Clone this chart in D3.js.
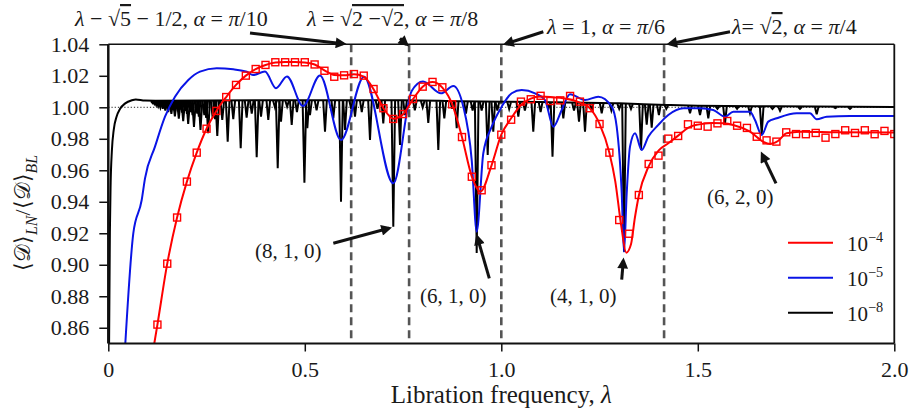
<!DOCTYPE html>
<html>
<head>
<meta charset="utf-8">
<script src="https://cdn.jsdelivr.net/npm/d3@7"></script>
<style>
  body { margin: 0; background: #fff; }
  svg text { font-family: "Liberation Serif", "Times New Roman", serif; fill: #1a1a1a; }
</style>
</head>
<body>
<svg id="chart" width="913" height="417"></svg>
<script>
// ---- data ----
var xTicks = [0, 0.5, 1.0, 1.5, 2.0];
var xTickLabels = ["0", "0.5", "1.0", "1.5", "2.0"];
var yTicks = [0.86, 0.88, 0.90, 0.92, 0.94, 0.96, 0.98, 1.00, 1.02, 1.04];

// resonance lines: (sqrt5-1)/2, sqrt(2-sqrt2), 1, sqrt2
var resonances = [0.618, 0.7654, 1.0, 1.4142];

// red, epsilon = 1e-4 : continuous curve
var redLine = [[0.117,0.85],[0.125,0.862],[0.15,0.9007],[0.175,0.930],[0.2,0.9528],[0.225,0.9712],[0.25,0.9864],
  [0.275,0.9977],[0.3,1.0065],[0.325,1.0142],[0.35,1.0201],[0.375,1.0243],[0.4,1.0269],[0.425,1.0284],[0.45,1.0288],
  [0.475,1.0288],[0.5,1.0284],[0.525,1.0272],[0.55,1.0235],[0.575,1.0205],[0.6,1.0203],[0.625,1.021],[0.65,1.0195],
  [0.675,1.0115],[0.7,0.9995],[0.725,0.9928],[0.75,0.9955],[0.775,1.005],[0.8,1.013],[0.825,1.016],[0.85,1.0125],
  [0.875,1.002],[0.9,0.981],[0.925,0.956],[0.947,0.9465],[0.975,0.963],[1.0,0.9826],[1.025,0.993],[1.05,1.0015],
  [1.075,1.0055],[1.1,1.0068],[1.125,1.0066],[1.15,1.006],[1.175,1.005],[1.2,1.003],[1.225,0.9995],[1.25,0.9895],
  [1.275,0.9712],[1.29,0.953],[1.305,0.925],[1.318,0.9077],[1.33,0.913],[1.34,0.93],[1.35,0.944],[1.375,0.9625],
  [1.4,0.9725],[1.424,0.977],[1.45,0.982],[1.475,0.987],[1.5,0.989],[1.536,0.990],[1.565,0.9898],[1.59,0.9888],
  [1.633,0.9845],[1.666,0.9782],[1.684,0.9767],[1.704,0.9786],[1.726,0.9835],[1.76,0.9845],[1.85,0.9842],[2.0,0.984]];

// red, epsilon = 1e-4 : open square markers
var redMarkers = [[0.125,0.862],[0.15,0.9007],[0.175,0.930],[0.2,0.9528],[0.225,0.9712],[0.25,0.9864],[0.275,0.9977],
  [0.3,1.0065],[0.325,1.0142],[0.35,1.0201],[0.375,1.0243],[0.4,1.0269],[0.425,1.0286],[0.45,1.0286],[0.475,1.0286],
  [0.5,1.0286],[0.525,1.0272],[0.55,1.0232],[0.575,1.0194],[0.6,1.0203],[0.625,1.0211],[0.65,1.0201],[0.675,1.0116],
  [0.7,0.9994],[0.725,0.9926],[0.75,0.9957],[0.775,1.0053],[0.8,1.0131],[0.825,1.0161],[0.85,1.0127],[0.875,1.0019],
  [0.9,0.9811],[0.925,0.9559],[0.95,0.9473],[0.975,0.9632],[1.0,0.9826],[1.025,0.9921],[1.05,1.0036],[1.075,1.0051],
  [1.1,1.0073],[1.125,1.004],[1.15,1.0044],[1.175,1.0072],[1.2,1.0036],[1.225,0.9994],[1.25,0.9894],[1.275,0.9712],
  [1.3,0.9284],[1.325,0.9197],[1.35,0.9443],[1.375,0.964],[1.4,0.9693],[1.425,0.9801],[1.45,0.9818],[1.475,0.9892],
  [1.5,0.9883],[1.525,0.9877],[1.55,0.9898],[1.575,0.9913],[1.6,0.9883],[1.625,0.9869],[1.65,0.9813],[1.675,0.979],
  [1.7,0.9782],[1.725,0.9841],[1.75,0.983],[1.775,0.9829],[1.8,0.9837],[1.825,0.9807],[1.85,0.983],[1.875,0.9854],
  [1.9,0.9837],[1.925,0.9854],[1.95,0.9829],[1.975,0.985],[2.0,0.983]];

// blue, epsilon = 1e-5
var blueLine = [[0.0433,0.85],[0.0636,0.92],[0.085,0.9411],[0.0934,0.9549],[0.1188,0.975],[0.1443,0.994],
  [0.1697,1.0067],[0.2036,1.0173],[0.2333,1.0226],[0.2758,1.0248],[0.3181,1.0241],[0.3522,1.0226],[0.3682,1.0205],
  [0.3987,1.0227],[0.4267,1.0121],[0.4547,1.0196],[0.4954,1.0008],[0.5387,1.0202],[0.5921,0.9792],[0.6506,1.0194],
  [0.7252,0.9517],[0.772,1.0103],[0.8008,1.0163],[0.8466,1.0089],[0.8779,1.0135],[0.9033,1.0004],[0.9247,0.9665],
  [0.9374,0.921],[0.9542,0.9708],[0.9756,0.9877],[1.001,1.0004],[1.0265,1.0089],[1.0519,1.011],[1.0858,1.0089],
  [1.1112,1.0046],[1.1323,0.9877],[1.1537,0.9983],[1.1748,1.0083],[1.213,1.0046],[1.2468,1.0067],[1.2809,1.0004],
  [1.2936,0.9877],[1.3064,0.9454],[1.3122,0.9083],[1.3191,0.9454],[1.3275,0.975],[1.3402,0.9835],[1.3573,0.9729],
  [1.374,0.9813],[1.3995,0.9888],[1.4249,0.9951],[1.4631,0.9994],[1.5056,0.9994],[1.5394,0.9983],[1.5692,0.994],
  [1.5903,0.9972],[1.6328,0.9972],[1.6455,0.9919],[1.6626,0.9824],[1.6794,0.9909],[1.7008,0.993],[1.7517,0.9962],
  [1.7855,0.9962],[1.8025,0.9924],[1.828,0.994],[1.8873,0.9945],[2.0,0.9945]];

// black, epsilon = 1e-8 : slowly varying level ...
var blackBase = [[0.002,0.85],[0.004,0.92],[0.006,0.952],[0.009,0.972],[0.014,0.986],[0.021,0.994],[0.03,0.999],
  [0.043,1.0025],[0.06,1.0045],[0.07,1.005],[0.093,1.0043],[0.12,1.0042],[0.4,1.0045],[0.75,1.0045],[0.9,1.0038],
  [1.1,1.0033],[1.3,1.0025],[1.42,1.0015],[1.5,1.001],[1.7,1.0006],[2.0,1.0002]];
// ... plus narrow resonance spikes [lambda, lowest value]
var blackSpikes = [[0.113,1.0026],[0.115,1.0034],[0.1173,1.002],[0.1196,1.003],[0.1208,1.0028],[0.122,1.0013],
  [0.1245,1.0027],[0.1258,1.0022],[0.127,1.0006],[0.1298,1.0024],[0.1312,1.0016],[0.1326,0.9998],[0.1356,1.002],
  [0.1371,1.001],[0.1386,0.999],[0.1419,1.0016],[0.1435,1.0004],[0.1452,0.998],[0.1488,1.0011],[0.1506,0.9998],
  [0.1525,0.997],[0.1565,1.0006],[0.1585,0.999],[0.1605,0.9958],[0.165,1.0],[0.1672,0.9982],[0.1694,0.9943],
  [0.1744,0.9993],[0.1769,0.9975],[0.1794,0.9928],[0.185,0.9985],[0.1878,0.9966],[0.1906,0.9912],[0.197,0.9978],
  [0.2001,0.9958],[0.2033,0.9895],[0.2106,0.997],[0.2143,0.995],[0.218,0.9875],[0.2263,0.996],[0.2304,0.994],
  [0.2346,0.9856],[0.2443,0.995],[0.2491,0.9932],[0.254,0.9835],[0.2655,0.9935],[0.2714,0.9925],[0.2773,0.9818],
  [0.29,0.992],[0.3038,0.9782],[0.318,0.9925],[0.3369,0.974],[0.352,0.9935],[0.365,0.996],[0.3776,0.9683],
  [0.3886,0.994],[0.4071,0.992],[0.424,1.0],[0.4311,0.9613],[0.4394,0.9909],[0.455,1.0005],[0.4667,0.9888],
  [0.48,0.997],[0.499,0.9521],[0.5064,0.9867],[0.5132,0.9951],[0.53,0.998],[0.5514,0.9845],[0.5725,0.993],
  [0.5921,0.94],[0.6023,0.9856],[0.618,0.999],[0.6277,0.994],[0.645,0.997],[0.6659,0.9792],[0.685,0.999],
  [0.6997,0.9898],[0.7252,0.9242],[0.7422,0.976],[0.755,0.995],[0.78,0.998],[0.8,1.0],[0.8142,0.99],[0.8397,0.9729],
  [0.855,0.993],[0.875,0.999],[0.8865,0.9867],[0.91,0.996],[0.927,0.998],[0.9374,0.9075],[0.95,0.998],
  [0.9654,0.9697],[0.9796,0.9845],[0.99,0.998],[1.02,0.999],[1.0433,0.994],[1.06,0.998],[1.0814,0.9845],[1.1,0.997],
  [1.12,0.999],[1.1303,0.9686],[1.1578,0.993],[1.185,0.998],[1.1977,0.9909],[1.213,0.9845],[1.23,0.998],
  [1.2555,0.9962],[1.28,0.998],[1.3,0.999],[1.3122,0.9083],[1.33,0.999],[1.3555,0.9729],[1.37,0.989],[1.3827,0.987],
  [1.401,0.995],[1.42,0.999],[1.4802,0.9962],[1.5056,0.9951],[1.5267,0.993],[1.55,0.999],[1.5692,0.9898],[1.6,0.999],
  [1.6328,0.9962],[1.6626,0.983],[1.69,0.999],[1.7092,0.9978],[1.76,0.999],[1.8025,0.9955],[1.85,0.9995],
  [1.8873,0.999]];

// arrows: [from, to] in data units
var topArrows = [[[0.3606,1.0472],[0.598,1.0404]], [[0.7422,1.0438],[0.759,1.0400]],
                 [[1.1069,1.048],[1.012,1.0403]], [[1.582,1.048],[1.428,1.0403]]];
var modeArrows = [[[0.5725,0.9137],[0.714,0.9232]], [[0.9695,0.8914],[0.939,0.9175]],
                  [[1.3064,0.8905],[1.3104,0.9025]], [[1.699,0.9517],[1.664,0.970]]];
var modeLabels = ["(8, 1, 0)", "(6, 1, 0)", "(4, 1, 0)", "(6, 2, 0)"];

// ---- chart ----
var svg = d3.select("#chart");
var plotL = 108.3, plotR = 894.3, plotT = 44.3, plotB = 343.5;

var x = d3.scaleLinear().domain([0, 2]).range([plotL, plotR]);
var y = d3.scaleLinear().domain([0.85, 1.04]).range([plotB, plotT]);

var defs = svg.append("defs");
defs.append("clipPath").attr("id", "plotclip").append("rect")
  .attr("x", plotL).attr("y", plotT).attr("width", plotR - plotL).attr("height", plotB - plotT);
defs.append("marker").attr("id", "arr").attr("viewBox", "0 0 10 10")
  .attr("refX", 7).attr("refY", 5).attr("markerWidth", 4.6).attr("markerHeight", 3.6)
  .attr("orient", "auto")
  .append("path").attr("d", "M0,0L10,5L0,10z").attr("fill", "#111");

// reference line at 1.00
svg.append("line").attr("x1", x(0)).attr("x2", x(2)).attr("y1", y(1)).attr("y2", y(1))
  .attr("stroke", "#222").attr("stroke-width", 1).attr("stroke-dasharray", "1.2,2");

// dashed resonance lines
svg.selectAll(".res").data(resonances).enter().append("line")
  .attr("x1", function(d){ return x(d); }).attr("x2", function(d){ return x(d); })
  .attr("y1", y(1.04)).attr("y2", y(0.85))
  .attr("stroke", "#555").attr("stroke-width", 2.6).attr("stroke-dasharray", "8,5");

var plot = svg.append("g").attr("clip-path", "url(#plotclip)");

var smooth = d3.line().x(function(d){ return x(d[0]); }).y(function(d){ return y(d[1]); }).curve(d3.curveMonotoneX);

// black level at a given lambda (linear between base points)
var bis = d3.bisector(function(d){ return d[0]; }).left;
function baseAt(l) {
  var i = Math.max(1, Math.min(blackBase.length - 1, bis(blackBase, l)));
  var a = blackBase[i - 1], b = blackBase[i];
  return d3.interpolateNumber(a[1], b[1])((l - a[0]) / (b[0] - a[0]));
}

plot.append("path").attr("d", smooth(blackBase)).attr("fill", "none")
  .attr("stroke", "#000").attr("stroke-width", 2);
plot.selectAll(".spike").data(blackSpikes).enter().append("path")
  .attr("d", function(d){
    var px = x(d[0]), top = y(baseAt(d[0]) - 0.0003), bot = y(d[1]);
    return "M" + (px - 1.8) + "," + top + "L" + px + "," + bot + "L" + (px + 1.8) + "," + top;
  })
  .attr("fill", "none").attr("stroke", "#000").attr("stroke-width", 2).attr("stroke-linejoin", "miter");

plot.append("path").attr("d", smooth(blueLine)).attr("fill", "none")
  .attr("stroke", "#0a14e6").attr("stroke-width", 2);
plot.append("path").attr("d", smooth(redLine)).attr("fill", "none")
  .attr("stroke", "#f00").attr("stroke-width", 2);
plot.selectAll(".mk").data(redMarkers).enter().append("rect")
  .attr("x", function(d){ return x(d[0]) - 3.5; }).attr("y", function(d){ return y(d[1]) - 3.5; })
  .attr("width", 7).attr("height", 7).attr("fill", "none").attr("stroke", "#f00").attr("stroke-width", 1.4);

// axes
var fs = 22;
var yAxis = d3.axisLeft(y).tickValues(yTicks).tickFormat(d3.format(".2f")).tickSize(9).tickPadding(10);
var gy = svg.append("g").attr("transform", "translate(" + plotL + ",0)").call(yAxis);
var xAxis = d3.axisBottom(x).tickValues(xTicks).tickFormat(function(d, i){ return xTickLabels[i]; })
  .tickSize(8).tickPadding(10);
var gx = svg.append("g").attr("transform", "translate(0," + plotB + ")").call(xAxis);
[gx, gy].forEach(function(g){
  g.select(".domain").remove();
  g.selectAll(".tick line").attr("stroke", "#111").attr("stroke-width", 1.5);
  g.selectAll(".tick text").attr("font-size", fs).attr("fill", "#1a1a1a")
    .attr("font-family", "Liberation Serif, Times New Roman, serif");
});

// frame
svg.append("line").attr("x1", plotL).attr("x2", plotL).attr("y1", plotT).attr("y2", plotB)
  .attr("stroke", "#111").attr("stroke-width", 2.5);
svg.append("line").attr("x1", plotL).attr("x2", plotR).attr("y1", plotB).attr("y2", plotB)
  .attr("stroke", "#111").attr("stroke-width", 2);
svg.append("line").attr("x1", plotL).attr("x2", plotR).attr("y1", plotT).attr("y2", plotT)
  .attr("stroke", "#111").attr("stroke-width", 1.5);
svg.append("line").attr("x1", plotR).attr("x2", plotR).attr("y1", plotT).attr("y2", plotB)
  .attr("stroke", "#111").attr("stroke-width", 1.8);

// rich text helper: parts = [text, style]; style flags: i italic, o overline, sup, sub
function rich(g, px, py, parts, size, anchor) {
  var t = g.append("text").attr("x", px).attr("y", py).attr("font-size", size);
  if (anchor) t.attr("text-anchor", anchor);
  var shift = 0;
  parts.forEach(function(p){
    var s = t.append("tspan").text(p[0]);
    var st = p[1] || "";
    var isSup = st.indexOf("sup") >= 0, isSub = st.indexOf("sub") >= 0;
    if (st.charAt(0) === "i") s.attr("font-style", "italic");
    if (st === "o") s.style("text-decoration", "overline");
    var want = 0;
    if (isSup) { want = -0.42 * size; s.attr("font-size", size * 0.68); }
    if (isSub) { want = 0.3 * size; s.attr("font-size", size * 0.72); }
    s.attr("dy", want - shift);
    shift = want;
  });
  return t;
}

// top annotations
rich(svg, 75, 26, [["λ", "i"], [" − √"], ["5", "o"], [" − 1/2, "], ["α", "i"], [" = "], ["π", "i"], ["/10"]], 22);
rich(svg, 307, 26, [["λ", "i"], [" = √"], ["2 −√", "o"], ["2", "o"], [", "], ["α", "i"], [" = "], ["π", "i"], ["/8"]], 22);
rich(svg, 547, 34, [["λ", "i"], [" = 1, "], ["α", "i"], [" = "], ["π", "i"], ["/6"]], 22);
rich(svg, 732, 34, [["λ", "i"], ["= √"], ["2", "o"], [", "], ["α", "i"], [" = "], ["π", "i"], ["/4"]], 22);

var arrows = topArrows.concat(modeArrows);
svg.selectAll(".arrow").data(arrows).enter().append("line")
  .attr("x1", function(d){ return x(d[0][0]); }).attr("y1", function(d){ return y(d[0][1]); })
  .attr("x2", function(d){ return x(d[1][0]); }).attr("y2", function(d){ return y(d[1][1]); })
  .attr("stroke", "#111").attr("stroke-width", 3).attr("marker-end", "url(#arr)");

// mode labels
var labelPos = [[255, 258], [420, 303], [550, 303], [707, 204]];
modeLabels.forEach(function(t, i){
  svg.append("text").attr("x", labelPos[i][0]).attr("y", labelPos[i][1]).attr("font-size", 21).text(t);
});

// legend
var legendColors = ["#f00", "#0a14e6", "#000"];
var legendExp = ["−4", "−5", "−8"];
legendColors.forEach(function(c, i){
  var ly = 242.7 + i * 35;
  svg.append("line").attr("x1", 788).attr("x2", 833).attr("y1", ly).attr("y2", ly)
    .attr("stroke", c).attr("stroke-width", 2);
  rich(svg, 847, ly + 8, [["10"], [legendExp[i], "sup"]], 21);
});

// axis titles
rich(svg, x(1), 403, [["Libration frequency, "], ["λ", "i"]], 25, "middle");
var yl = svg.append("g").attr("transform", "translate(30,213) rotate(-90)");
rich(yl, 0, 0, [["⟨𝒟⟩"], ["LN", "isub"], ["/⟨𝒟⟩"], ["BL", "isub"]], 22, "middle");
</script>
</body>
</html>
